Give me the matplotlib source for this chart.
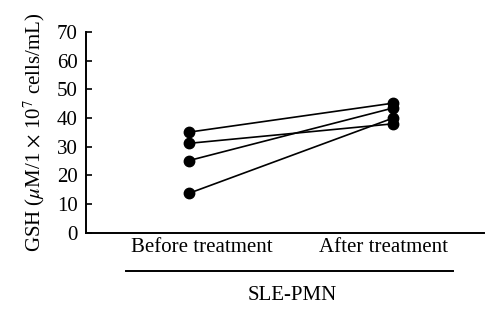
import matplotlib.pyplot as plt
from matplotlib.lines import Line2D

# GSH levels per patient, before and after treatment
groups = ['Before treatment', 'After treatment']
before = [35.1, 31.2, 25.2, 13.8]
after = [45.2, 38.0, 43.5, 40.0]
yticks = [0, 10, 20, 30, 40, 50, 60, 70]

plt.rcParams['font.family'] = 'Liberation Serif'
plt.rcParams['mathtext.fontset'] = 'stix'
fs = 15

fig = plt.figure(figsize=(5, 3.23), dpi=100)
ax = fig.add_axes([0.172, 0.279, 0.796, 0.622])

for b, a in zip(before, after):
    ax.plot([1, 2], [b, a], color='black', lw=1.2, marker='o', ms=7.5,
            mfc='black', mec='black')

ax.set_xlim(0.495, 2.446)
ax.set_ylim(0, 70)
ax.set_yticks(yticks)
ax.set_xticks([])
ax.spines['top'].set_visible(False)
ax.spines['right'].set_visible(False)
ax.spines['left'].set_linewidth(1.4)
ax.spines['bottom'].set_linewidth(1.4)
ax.tick_params(axis='y', direction='in', length=4.5, width=1.2, pad=6,
               labelsize=fs)

ax.set_ylabel(r'GSH ($\mu$M/1 $\times$ 10$^{7}$ cells/mL)', fontsize=fs,
              labelpad=7)

# group labels under the axis
ax.text(1.064, -0.073, groups[0], transform=ax.get_xaxis_transform(),
        ha='center', va='center', fontsize=fs)
ax.text(1.951, -0.073, groups[1], transform=ax.get_xaxis_transform(),
        ha='center', va='center', fontsize=fs)
fig.add_artist(Line2D([126 / 500, 453 / 500], [0.162, 0.162],
                      color='black', lw=1.4))
fig.text(292 / 500, 0.084, 'SLE-PMN', ha='center', va='center', fontsize=fs)

fig.savefig('out.png', dpi=100)
